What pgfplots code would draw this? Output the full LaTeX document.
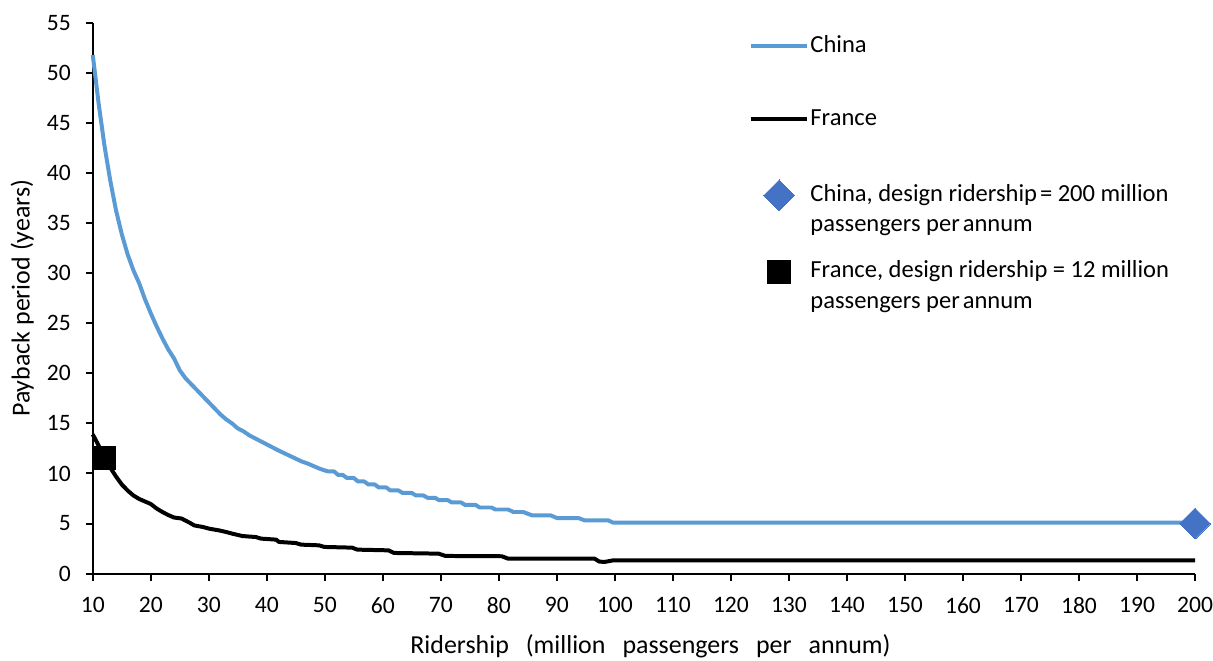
\documentclass[border=0pt]{standalone}
\usepackage{fontspec}
\setmainfont{Carlito}
\usepackage{pgfplots}
\pgfplotsset{compat=1.18}
\definecolor{chinaline}{HTML}{5B9BD5}
\definecolor{chinamark}{HTML}{4472C4}
\pgfplotsset{
  lineleg/.style={legend image code/.code={\draw[##1] (0pt,0pt) -- (28.5pt,0pt);}},
  markleg/.style={legend image code/.code={\draw[##1] plot coordinates {(14.25pt,0pt)};}},
}
\begin{document}
\begin{tikzpicture}
\useasboundingbox (-46.5pt,-43.5pt) rectangle (561.5pt,287.5pt);
\begin{axis}[
  at={(0,0)}, anchor=south west, scale only axis,
  width=552.5pt, height=276pt,
  xmin=10, xmax=200, ymin=0, ymax=55,
  xtick={10,20,...,200}, ytick={0,5,...,55},
  axis x line*=bottom, axis y line*=left,
  axis line style={line width=1pt, black},
  tick style={line width=1pt, black},
  tick align=outside, major tick length=3.5pt,
  clip=false,
  /pgf/number format/assume math mode=true,
  ticklabel style={font=\fontsize{11.8}{14}\selectfont},
  xticklabel style={yshift=-5pt},
  yticklabel style={xshift=-4pt},
  xlabel={Ridership\hspace{0.43em} (million\hspace{0.43em} passengers\hspace{0.43em} per\hspace{0.43em} annum)},
  ylabel={Payback period (years)},
  every axis x label/.style={at={(axis description cs:0.506,-0.132)}, anchor=center, font=\fontsize{13}{15}\selectfont},
  every axis y label/.style={at={(axis description cs:-0.064,0.5)}, rotate=90, anchor=center, font=\fontsize{13}{15}\selectfont},
  legend cell align=left,
  legend style={draw=none, fill=none, inner sep=0pt,
    at={(0.5946,0.980)}, anchor=north west,
    font=\fontsize{12.3}{15.2}\selectfont,
    row sep=24.5pt,
    nodes={inner sep=0pt, text height=9pt, text depth=3pt},
    /tikz/every odd column/.append style={column sep=0.5pt}},
]
\addplot[color=chinaline, line width=2pt, line join=round, no markers, lineleg]
coordinates {
(10,51.8)(11,47.0)(12,42.8)(13,39.3)(14,36.3)(15,33.9)(16,31.9)(17,30.3)(18,29.0)(19,27.4)(20,26.0)
(21,24.7)(22,23.5)(23,22.4)(24,21.5)(25,20.3)(26,19.5)(27,18.9)(28,18.3)(29,17.7)(30,17.1)
(31,16.5)(32,15.9)(33,15.4)(34,15.0)(35,14.5)(36,14.2)(37,13.8)(38,13.5)(39,13.2)(40,12.9)
(42,12.3)(44,11.75)(46,11.2)(47,11.0)(48,10.75)(49,10.5)(50,10.3)(50.6,10.2)(51.6,10.2)
(52.3,9.85)(53.1,9.85)(53.8,9.55)(55,9.55)(55.7,9.2)(56.8,9.2)(57.5,8.9)(58.6,8.9)(59.3,8.6)(60.6,8.6)
(61.3,8.3)(62.7,8.3)(63.4,8.05)(65,8.05)(65.7,7.8)(67,7.8)(67.7,7.57)(69,7.57)(69.7,7.33)(71.2,7.33)
(71.9,7.1)(73.5,7.1)(74.2,6.85)(76,6.85)(76.7,6.6)(78.7,6.6)(79.4,6.4)(81.6,6.4)(82.5,6.15)(84.2,6.15)
(85.1,5.95)(85.7,5.82)(88.9,5.82)(90,5.55)(93.7,5.55)(94.8,5.31)(98.9,5.31)(99.7,5.08)(200,5.08)
};
\addlegendentry{China}
\addplot[color=black, line width=2pt, line join=round, no markers, lineleg]
coordinates {
(10,13.9)(11,12.8)(12,11.7)(13,10.6)(14,9.7)(15,8.9)(16,8.3)(17,7.8)(18,7.45)(19,7.2)(20,6.95)
(21,6.5)(22,6.15)(23,5.85)(24,5.6)(25.3,5.5)(26.7,5.08)(27.5,4.81)(29,4.65)(30.1,4.48)(31.8,4.31)
(33,4.15)(34.1,3.98)(35.8,3.75)(38.1,3.65)(39,3.49)(41.6,3.39)(42.1,3.16)(45,3.05)(45.9,2.89)
(49,2.82)(49.9,2.66)(54.7,2.59)(55.6,2.39)(61,2.32)(61.9,2.06)(69.6,1.99)(70.8,1.76)(80.5,1.73)
(81.6,1.49)(96.5,1.49)(97.3,1.2)(98.2,1.16)(99.7,1.32)(200,1.32)
};
\addlegendentry{France}
\addplot[only marks, mark=square*, mark size=5.48pt,
  mark options={rotate=45, fill=chinamark, draw=chinamark, line width=0pt}, markleg]
coordinates {(200,5.0)};
\addlegendentry{\begin{tabular}[t]{@{}l@{}}China, design ridership\hspace{0.12em}= 200 million\\passengers per\hspace{0.12em}annum\end{tabular}}
\addplot[only marks, mark=square*, mark size=5.75pt,
  mark options={fill=black, draw=black, line width=0pt}, markleg]
coordinates {(12,11.5)};
\addlegendentry{\begin{tabular}[t]{@{}l@{}}France, design ridership = 12 million\\passengers per\hspace{0.12em}annum\end{tabular}}
\end{axis}
\end{tikzpicture}
\end{document}
